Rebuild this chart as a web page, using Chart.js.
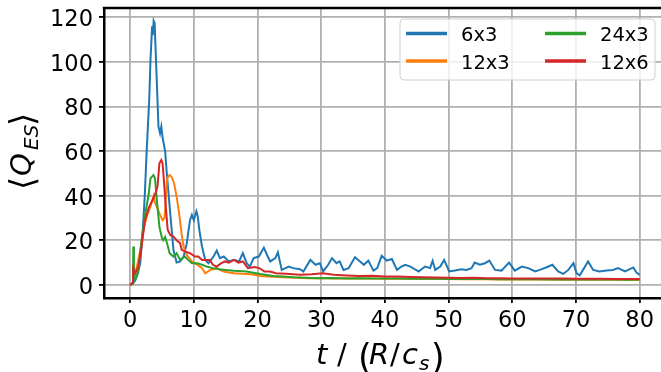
<!DOCTYPE html>
<html>
<head>
<meta charset="utf-8">
<script src="https://cdn.jsdelivr.net/npm/chart.js@4.4.1/dist/chart.umd.min.js"></script>
<style>
  html, body { margin: 0; padding: 0; background: #fff; }
  canvas { display: block; }
</style>
</head>
<body>
<canvas id="chart" width="661" height="372"></canvas>
<script>
// series, t in R/c_s
const seriesNames = ["6x3", "12x3", "24x3", "12x6"];
const seriesColors = ["#1f77b4", "#ff7f0e", "#2ca02c", "#d62728"];

const t_6x3 = [0,0.4,0.8,1.2,1.6,2.0,2.3,2.6,3.0,3.2,3.45,3.55,3.7,3.85,4.1,4.45,4.7,4.9,5.1,5.5,5.76,6.0,6.3,6.8,7.3,7.85,8.4,8.9,9.4,9.7,10.0,10.4,10.6,10.9,11.3,11.8,12.3,13.1,13.6,14.1,14.7,15.5,16.3,17.1,17.7,18.3,18.8,19.4,20.2,21.0,21.5,22.0,22.8,23.2,23.8,24.4,24.9,25.6,26.7,27.2,28.3,29.1,29.8,30.3,31.1,31.7,32.4,32.9,33.5,34.3,35.3,36.1,36.7,37.4,38.2,38.8,39.5,40.3,41.1,41.9,42.6,43.2,44.0,44.7,45.3,46.3,47.1,47.5,47.9,48.7,49.3,50.1,51.0,52.0,52.8,53.6,54.1,54.9,55.7,56.4,57.3,58.3,59.5,60.4,61.5,62.5,63.6,64.3,65.4,66.3,67.2,68.0,68.8,69.6,70.1,70.6,71.9,72.7,73.7,74.8,75.8,76.6,77.7,79.0,79.5,80.0];
const q_6x3 = [0,0.5,2,5,10,25,40,60,83,101,116,112,118.5,117.5,98,71,68,71,66,60,50,42,32,15.7,10,10.5,12.7,18.7,29,31.4,29,33,31,24,17,11.2,9.7,12.7,15.4,12,12.7,10.5,11.2,10.5,14.2,9.7,8.2,12,12.7,16.7,13.4,10.5,12,14.6,6.7,7.5,8.2,7.5,7,6,11.2,9,9.7,6,9,12,9.7,10.5,6.7,7.5,12.4,10.5,9,10.9,6.4,7.5,13,10.9,11.6,6.7,8.2,9,8.2,7,6,8.2,7.5,10.8,6.7,8.2,11.2,6,6.4,7,6.7,7.5,10,9,9.7,10.9,6.7,6.4,10,6.4,8.2,7.5,6,6.7,7.9,9,6,4.9,6.7,9.7,5.2,4.3,10.5,6.7,6,6.4,6.7,7.5,6,7.8,5.5,4.5];

const t_12x3 = [0,0.4,0.8,1.2,1.6,2.1,2.6,3.1,3.5,3.7,3.9,4.2,4.7,5.1,5.4,5.6,5.8,6.0,6.2,6.5,6.9,7.3,7.7,8.1,8.4,8.9,9.7,10.5,11.3,11.8,12.6,13.6,14.7,15.5,16.3,17.5,18.5,19.5,20.5,21.5,22.5,24,26,28,30,32,34,36,38,40,42,44,46,48,50,52,54,56,58,60,62,64,66,68,70,72,74,76,78,80];
const q_12x3 = [0,1,5,10,15.7,24.7,30.6,34.4,38,40,37,35,31.4,29,30,38,47.8,48.5,49.3,48.5,45.6,39.6,32,22.4,17.2,13.4,10.5,9,7.5,5.2,6.7,7.5,6,5.5,5.2,5,4.9,4.5,4,3.7,3.6,3.4,3.2,3.0,3.1,2.9,3.0,2.8,2.9,2.7,2.8,2.7,2.6,2.7,2.6,2.5,2.6,2.5,2.4,2.5,2.4,2.5,2.4,2.3,2.4,2.3,2.4,2.3,2.3,2.2];

const t_24x3 = [0,0.45,0.5,0.6,0.9,1.3,1.8,2.3,2.9,3.2,3.66,3.9,4.3,4.6,5.0,5.2,5.5,5.8,6.2,6.8,7.3,7.85,8.6,9.1,9.7,10.5,11.3,12,13,14,15,16.3,18.3,20.4,22.5,24,25.7,27.5,29.3,32,34,36,38,40,42,44,46,48,50,52,54,56,58,60,62,64,66,68,70,72,74,76,78,80];
const q_24x3 = [0,0.5,17.2,2.2,3,6.5,20,30.6,40.3,47.8,49.3,47.8,35,26,21,20,21.5,18.7,14.2,12.7,14.2,11.2,12.7,11.2,9.7,9.7,9,8.2,7.5,7,6.7,6.3,6,4.9,4,3.7,3.4,3.2,3.0,3.1,2.9,3.0,2.9,2.8,2.9,2.7,2.8,2.7,2.6,2.7,2.6,2.6,2.5,2.6,2.5,2.5,2.4,2.5,2.4,2.4,2.5,2.4,2.3,2.4];

const t_12x6 = [0,0.45,0.5,0.8,1.3,1.8,2.3,2.9,3.4,3.9,4.3,4.6,4.9,5.1,5.3,5.6,5.9,6.3,6.8,7.3,7.85,8.1,8.6,9.4,10.2,10.7,11.3,12,12.5,13,13.6,14.2,14.9,15.5,16.3,17,17.7,18.5,19.5,20.3,21.1,22,22.9,24.5,26.7,28.5,30.2,32,34,36,38,40,42,44,46,48,50,52,54,56,58,60,62,64,66,68,70,72,74,76,78,80];
const q_12x6 = [0,1,7.5,5.2,8.2,17.2,28.4,34.4,37.3,40.3,44.1,54.5,56,54.5,47,35,24.7,22.4,21.7,20,18.7,15.7,15,14.2,12.7,12.7,11.2,11.2,11.2,9,8.2,9.5,10.5,10,11.2,10,10.5,7.5,8,7.5,6,6,5.2,5,4.5,4.8,5.2,4.5,4.2,4.0,4.1,3.8,3.7,3.5,3.4,3.3,3.2,3.1,3.2,3.0,3.0,2.9,2.9,2.8,2.8,2.8,2.7,2.7,2.7,2.6,2.6,2.6];

const xTicks = [0, 10, 20, 30, 40, 50, 60, 70, 80];
const yTicks = [0, 20, 40, 60, 80, 100, 120];

const seriesT = [t_6x3, t_12x3, t_24x3, t_12x6];
const seriesQ = [q_6x3, q_12x3, q_24x3, q_12x6];

const FONT = "'DejaVu Sans', sans-serif";

// pieces of the math-style titles: text, style, size, baseline drop, x offset from centre
const xTitleRuns = [
  ["t", "italic", 29, 0, -68],
  ["/", "normal", 29, 0, -47],
  ["(", "normal", 35, 5, -26],
  ["R", "italic", 29, 0, -15],
  ["/", "normal", 29, 0, 6],
  ["c", "italic", 29, 0, 18],
  ["s", "italic", 20, 6, 35],
  [")", "normal", 35, 5, 47]
];
const yTitleRuns = [
  ["\u27E8", "normal", 34, 3, -37],
  ["Q", "italic", 29, 0, -23],
  ["ES", "italic", 20, 7, 3],
  ["\u27E9", "normal", 34, 3, 27]
];

function drawRuns(ctx, cx, baseline, runs) {
  ctx.textAlign = "left";
  ctx.textBaseline = "alphabetic";
  ctx.fillStyle = "#000";
  runs.forEach(([s, style, size, drop, dx]) => {
    ctx.font = style + " " + size + "px " + FONT;
    ctx.fillText(s, cx + dx, baseline + drop);
  });
}

// matplotlib look: top spine, legend box and titles
const decorations = {
  id: "decorations",
  afterDraw(chart) {
    const ctx = chart.ctx;
    const area = chart.chartArea;
    ctx.save();

    ctx.strokeStyle = "#000";
    ctx.lineWidth = 2.5;
    ctx.beginPath();
    ctx.moveTo(area.left - 1.25, area.top);
    ctx.lineTo(area.right, area.top);
    ctx.stroke();

    // legend, two columns
    const lx = 400, ly = 19, lw = 255, lh = 61;
    ctx.beginPath();
    ctx.roundRect(lx, ly, lw, lh, 4);
    ctx.fillStyle = "rgba(255,255,255,0.8)";
    ctx.fill();
    ctx.strokeStyle = "#d0d0d0";
    ctx.lineWidth = 1;
    ctx.stroke();
    const cols = [406, 545];
    const rows = [33.5, 61];
    ctx.font = "19.5px " + FONT;
    ctx.textBaseline = "alphabetic";
    ctx.textAlign = "left";
    const slots = [[0, 0], [0, 1], [1, 0], [1, 1]];
    seriesNames.forEach((name, i) => {
      const [c, r] = slots[i];
      const x0 = cols[c], y0 = rows[r];
      ctx.strokeStyle = seriesColors[i];
      ctx.lineWidth = 3.5;
      ctx.beginPath();
      ctx.moveTo(x0, y0);
      ctx.lineTo(x0 + 41, y0);
      ctx.stroke();
      ctx.fillStyle = "#000";
      ctx.fillText(name, x0 + 55, y0 + 7.5);
    });

    drawRuns(ctx, 384, 363.5, xTitleRuns);

    ctx.translate(31, 153);
    ctx.rotate(-Math.PI / 2);
    drawRuns(ctx, 0, 0, yTitleRuns);
    ctx.restore();
  }
};

const datasets = seriesNames.map((name, i) => ({
  label: name,
  data: seriesT[i].map((t, k) => ({ x: t, y: seriesQ[i][k] })),
  borderColor: seriesColors[i],
  backgroundColor: seriesColors[i],
  borderWidth: 2,
  pointRadius: 0,
  tension: 0,
  fill: false,
  order: seriesNames.length - i
}));

const tickFont = { family: FONT, size: 22.5 };

new Chart(document.getElementById("chart"), {
  type: "line",
  data: { datasets },
  options: {
    responsive: false,
    animation: false,
    devicePixelRatio: 1,
    layout: { padding: { top: 8, right: 0, left: 0, bottom: 0 } },
    plugins: {
      legend: { display: false },
      tooltip: { enabled: false }
    },
    scales: {
      x: {
        type: "linear",
        min: -4.1,
        max: 83.35,
        afterBuildTicks: (scale) => { scale.ticks = xTicks.map((v) => ({ value: v })); },
        afterFit: (scale) => {
          scale.height = 74;
          scale.paddingLeft = 0;
          scale.paddingRight = 0;
        },
        grid: { color: "#b0b0b0", lineWidth: 1.8, tickLength: 5, tickColor: "#000", tickWidth: 1.8 },
        border: { color: "#000", width: 2.5 },
        ticks: { color: "#000", font: tickFont, padding: 5, maxRotation: 0, autoSkip: false }
      },
      y: {
        type: "linear",
        min: -5.9,
        max: 124.2,
        afterBuildTicks: (scale) => { scale.ticks = yTicks.map((v) => ({ value: v })); },
        afterFit: (scale) => {
          scale.width = 104;
          scale.paddingTop = 0;
          scale.paddingBottom = 0;
        },
        grid: { color: "#b0b0b0", lineWidth: 1.8, tickLength: 5, tickColor: "#000", tickWidth: 1.8 },
        border: { color: "#000", width: 2.5 },
        ticks: { color: "#000", font: tickFont, padding: 6, labelOffset: 3 }
      }
    }
  },
  plugins: [decorations]
});
</script>
</body>
</html>
